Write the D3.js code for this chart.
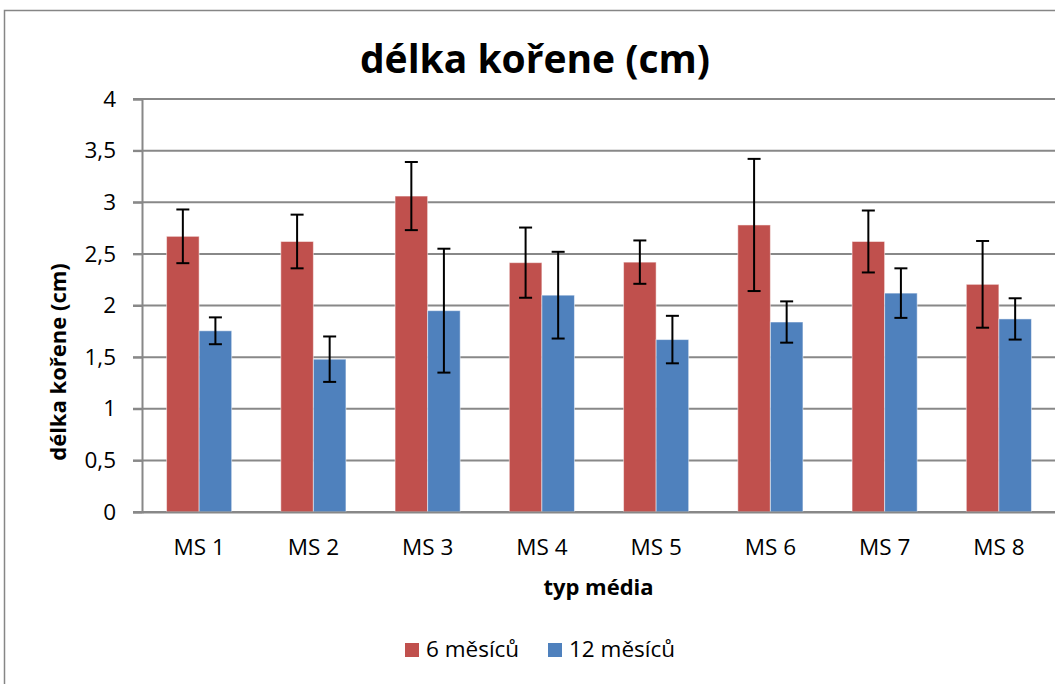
<!DOCTYPE html>
<html>
<head>
<meta charset="utf-8">
<script src="https://cdn.jsdelivr.net/npm/d3@7"></script>
<style>
  body { margin: 0; background: #fff; }
  svg { display: block; }
</style>
</head>
<body>
<div id="chart"></div>
<script>
// data
const categories = ["MS 1", "MS 2", "MS 3", "MS 4", "MS 5", "MS 6", "MS 7", "MS 8"];
const seriesNames = ["6 měsíců", "12 měsíců"];
const six = [2.67, 2.62, 3.06, 2.415, 2.42, 2.78, 2.62, 2.205];
const twelve = [1.755, 1.48, 1.95, 2.10, 1.67, 1.84, 2.12, 1.87];
const sixErr = [0.26, 0.26, 0.33, 0.34, 0.21, 0.64, 0.30, 0.42];
const twelveErr = [0.13, 0.22, 0.60, 0.42, 0.23, 0.20, 0.24, 0.20];
const yTicks = [0, 0.5, 1, 1.5, 2, 2.5, 3, 3.5, 4];

const colors = ["#C0504D", "#4F81BD"];
const width = 1055, height = 684;
const margin = { top: 99, right: -1, bottom: 172, left: 142 };
const font = "'Open Sans', 'Noto Sans', sans-serif";

const rows = categories.map((c, i) => ({
  cat: c,
  vals: [
    { s: 0, v: six[i], e: sixErr[i] },
    { s: 1, v: twelve[i], e: twelveErr[i] }
  ]
}));

const svg = d3.select("#chart").append("svg")
    .attr("width", width)
    .attr("height", height)
    .attr("font-family", font);

// chart frame (cropped on the right / bottom)
svg.append("path")
    .attr("d", `M4.5,${height + 2}V10.5H${width + 2}`)
    .attr("fill", "none")
    .attr("stroke", "#868686")
    .attr("stroke-width", 1.5);

const x = d3.scaleBand()
    .domain(categories)
    .range([margin.left, width - margin.right])
    .paddingInner(0.43)
    .paddingOuter(0.215);

const xs = d3.scaleBand()
    .domain([0, 1])
    .range([0, x.bandwidth()]);

const y = d3.scaleLinear()
    .domain([0, 4])
    .range([height - margin.bottom, margin.top]);

const fmt = d3.formatLocale({ decimal: ",", thousands: " ", grouping: [3], currency: ["", ""] }).format("~g");

// gridlines
svg.append("g")
    .attr("stroke", "#888888")
    .attr("stroke-width", 2)
  .selectAll("line")
  .data(yTicks)
  .join("line")
    .attr("x1", margin.left - 9)
    .attr("x2", width + 2)
    .attr("y1", d => y(d))
    .attr("y2", d => y(d));

// y axis
const yAxis = svg.append("g")
    .attr("transform", `translate(${margin.left},0)`)
    .call(d3.axisLeft(y).tickValues(yTicks).tickSize(9).tickPadding(17).tickFormat(fmt));
yAxis.select(".domain").attr("stroke", "#888888").attr("stroke-width", 2);
yAxis.selectAll(".tick line").attr("stroke", "#888888").attr("stroke-width", 2);
yAxis.selectAll(".tick text")
    .attr("font-family", font)
    .attr("font-size", 22.5)
    .attr("fill", "#000");

// bars
const group = svg.append("g")
  .selectAll("g")
  .data(rows)
  .join("g")
    .attr("transform", d => `translate(${x(d.cat)},0)`);

group.selectAll("rect")
  .data(d => d.vals)
  .join("rect")
    .attr("x", d => xs(d.s))
    .attr("y", d => y(d.v))
    .attr("width", xs.bandwidth())
    .attr("height", d => y(0) - y(d.v))
    .attr("fill", d => colors[d.s])
    .attr("stroke", "rgba(255,255,255,0.5)")
    .attr("stroke-width", 1);

// error bars
const eb = group.selectAll("g.err")
  .data(d => d.vals)
  .join("g")
    .attr("class", "err")
    .attr("stroke", "#000")
    .attr("stroke-width", 2);

eb.append("line")
    .attr("x1", d => xs(d.s) + xs.bandwidth() / 2)
    .attr("x2", d => xs(d.s) + xs.bandwidth() / 2)
    .attr("y1", d => y(d.v + d.e))
    .attr("y2", d => y(d.v - d.e));
eb.append("line")
    .attr("x1", d => xs(d.s) + xs.bandwidth() / 2 - 6.5)
    .attr("x2", d => xs(d.s) + xs.bandwidth() / 2 + 6.5)
    .attr("y1", d => y(d.v + d.e))
    .attr("y2", d => y(d.v + d.e));
eb.append("line")
    .attr("x1", d => xs(d.s) + xs.bandwidth() / 2 - 6.5)
    .attr("x2", d => xs(d.s) + xs.bandwidth() / 2 + 6.5)
    .attr("y1", d => y(d.v - d.e))
    .attr("y2", d => y(d.v - d.e));

// x axis
const xAxis = svg.append("g")
    .attr("transform", `translate(0,${y(0)})`)
    .call(d3.axisBottom(x).tickSize(0).tickPadding(27));
xAxis.select(".domain").attr("stroke", "#888888").attr("stroke-width", 2);
xAxis.selectAll(".tick text")
    .attr("font-family", font)
    .attr("font-size", 22.5)
    .attr("fill", "#000");

// titles
svg.append("text")
    .attr("x", 535)
    .attr("y", 73)
    .attr("text-anchor", "middle")
    .attr("font-size", 39)
    .attr("font-weight", "bold")
    .text("délka kořene (cm)");

svg.append("text")
    .attr("x", (margin.left + width) / 2)
    .attr("y", 595)
    .attr("text-anchor", "middle")
    .attr("font-size", 22)
    .attr("font-weight", "bold")
    .text("typ média");

svg.append("text")
    .attr("transform", "translate(66,362) rotate(-90)")
    .attr("text-anchor", "middle")
    .attr("font-size", 22)
    .attr("font-weight", "bold")
    .text("délka kořene (cm)");

// legend
const legendX = [405, 548];
const legend = svg.append("g")
  .selectAll("g")
  .data(seriesNames)
  .join("g")
    .attr("transform", (d, i) => `translate(${legendX[i]},643)`);
legend.append("rect")
    .attr("width", 14)
    .attr("height", 14)
    .attr("fill", (d, i) => colors[i]);
legend.append("text")
    .attr("x", 21)
    .attr("y", 14)
    .attr("font-size", 22.5)
    .text(d => d);
</script>
</body>
</html>
